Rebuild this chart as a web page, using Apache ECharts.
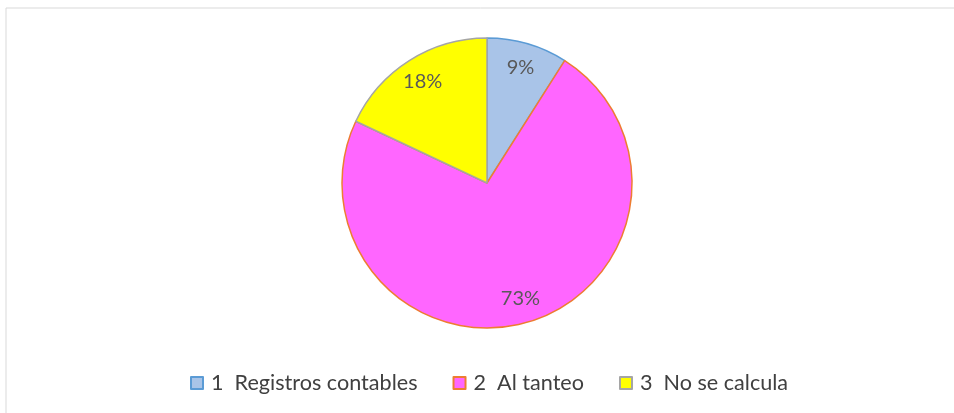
<!DOCTYPE html>
<html>
<head>
<meta charset="utf-8">
<script src="https://cdn.jsdelivr.net/npm/echarts@6/dist/echarts.min.js"></script>
<style>
  html, body { margin: 0; padding: 0; background: #fff; }
  #chart { width: 954px; height: 413px; }
</style>
</head>
<body>
<div id="chart"></div>
<script>
// categories and values
const categories = ["1  Registros contables", "2  Al tanteo", "3  No se calcula"];
const shares = [9, 73, 18];
const fillColors = ["#A9C4E8", "#FF66FF", "#FFFF00"];
const edgeColors = ["#5B9BD5", "#ED7D31", "#A5A5A5"];

const chart = echarts.init(document.getElementById("chart"));

const sliceData = categories.map(function (name, i) {
  return {
    name: name,
    value: shares[i],
    itemStyle: { color: fillColors[i], borderColor: edgeColors[i], borderWidth: 1.5 },
  };
});

// transparent ring only used to place the % labels further out
const labelData = categories.map(function (name, i) {
  return { name: name, value: shares[i] };
});

const option = {
  animation: false,
  graphic: [
    {
      type: "rect",
      shape: { x: 6, y: 8, width: 960, height: 420 },
      style: { fill: "none", stroke: "#D9D9D9", lineWidth: 1 },
      silent: true,
    },
  ],
  legend: {
    data: categories,
    top: 372,
    left: 190,
    padding: 0,
    icon: "rect",
    itemWidth: 12,
    itemHeight: 12,
    itemGap: 35,
    textStyle: { fontFamily: "Lato", fontSize: 21.6, color: "#404040", padding: [0, 0, 0, 3] },
  },
  series: [
    {
      type: "pie",
      center: [487, 183],
      radius: [0, 145],
      startAngle: 90,
      clockwise: true,
      data: sliceData,
      label: { show: false },
      labelLine: { show: false },
      emphasis: { disabled: true },
    },
    {
      type: "pie",
      center: [487, 183],
      radius: [88, 146],
      startAngle: 90,
      clockwise: true,
      silent: true,
      legendHoverLink: false,
      data: labelData,
      itemStyle: { color: "rgba(0,0,0,0)", borderWidth: 0 },
      label: {
        show: true,
        position: "inside",
        formatter: "{c}%",
        fontFamily: "Lato",
        fontSize: 20,
        color: "#595959",
      },
      labelLine: { show: false },
      emphasis: { disabled: true },
    },
  ],
};

chart.setOption(option);
</script>
</body>
</html>
